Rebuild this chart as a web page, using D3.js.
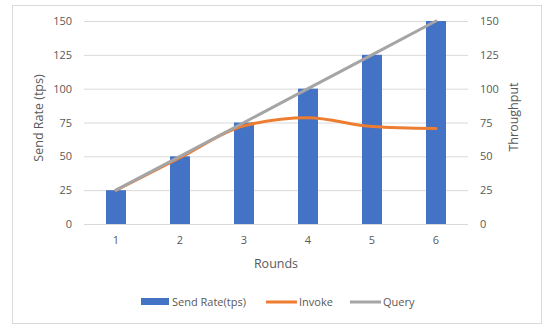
<!DOCTYPE html>
<meta charset="utf-8">
<style>
body { margin: 0; background: #fff; }
text { font-family: "Open Sans", sans-serif; fill: #595959; }
.grid line { stroke: #d9d9d9; stroke-width: 1px; }
.axis path, .axis line { display: none; }
.line { fill: none; stroke-width: 3px; stroke-linecap: round; }
</style>
<svg width="550" height="333"></svg>
<script src="https://d3js.org/d3.v7.min.js"></script>
<script>

const rounds = ["1", "2", "3", "4", "5", "6"];
const sendRate = [25, 50, 75, 100, 125, 150];
const invoke = [25, 49, 72.5, 78.5, 72, 70.5];
const query = [25, 50, 75, 100, 125, 150];
const yTicks = [0, 25, 50, 75, 100, 125, 150];

const svg = d3.select("svg"),
    margin = {top: 21, right: 82, bottom: 109, left: 84},
    width = +svg.attr("width") - margin.left - margin.right,
    height = +svg.attr("height") - margin.top - margin.bottom;

// outer frame
svg.append("rect")
    .attr("x", 12.5).attr("y", 5.5)
    .attr("width", 529).attr("height", 318)
    .attr("fill", "none")
    .attr("stroke", "#d9d9d9");

const g = svg.append("g").attr("transform", "translate(" + margin.left + "," + margin.top + ")");

const xScale = d3.scaleBand().domain(rounds).range([0, width]);
const yLeft = d3.scaleLinear().domain([0, 150]).range([height, 0]);
const yRight = d3.scaleLinear().domain([0, 150]).range([height, 0]);

g.append("g")
    .attr("class", "grid")
    .selectAll("line")
    .data(yTicks)
    .join("line")
    .attr("x1", 0).attr("x2", width)
    .attr("y1", d => yLeft(d) + 0.5).attr("y2", d => yLeft(d) + 0.5);

const yAxisL = g.append("g")
    .attr("class", "axis")
    .call(d3.axisLeft(yLeft).tickValues(yTicks).tickSize(0).tickPadding(12));
yAxisL.selectAll("text").style("font-size", "11px");

const yAxisR = g.append("g")
    .attr("class", "axis")
    .attr("transform", "translate(" + width + ",0)")
    .call(d3.axisRight(yRight).tickValues(yTicks).tickSize(0).tickPadding(12));
yAxisR.selectAll("text").style("font-size", "11px");

const xAxis = g.append("g")
    .attr("class", "axis")
    .attr("transform", "translate(0," + height + ")")
    .call(d3.axisBottom(xScale).tickSize(0).tickPadding(12));
xAxis.selectAll("text").style("font-size", "11px");

const barW = 20;
g.selectAll(".bar")
    .data(sendRate)
    .join("rect")
    .attr("class", "bar")
    .attr("x", (d, i) => xScale(rounds[i]) + xScale.bandwidth() / 2 - barW / 2)
    .attr("y", d => yLeft(d))
    .attr("width", barW)
    .attr("height", d => height - yLeft(d))
    .attr("fill", "#4472c4");

const cx = i => xScale(rounds[i]) + xScale.bandwidth() / 2;

g.append("path")
    .datum(invoke)
    .attr("class", "line")
    .attr("stroke", "#ed7d31")
    .attr("d", d3.line().x((d, i) => cx(i)).y(d => yRight(d)).curve(d3.curveMonotoneX));

g.append("path")
    .datum(query)
    .attr("class", "line")
    .attr("stroke", "#a5a5a5")
    .attr("d", d3.line().x((d, i) => cx(i)).y(d => yRight(d)));

// axis titles
svg.append("text")
    .attr("transform", "translate(43,118) rotate(-90)")
    .attr("text-anchor", "middle")
    .style("font-size", "12.5px")
    .text("Send Rate (tps)");

svg.append("text")
    .attr("transform", "translate(518,117) rotate(-90)")
    .attr("text-anchor", "middle")
    .style("font-size", "12.5px")
    .text("Throughput");

svg.append("text")
    .attr("x", 276).attr("y", 268)
    .attr("text-anchor", "middle")
    .style("font-size", "12.5px")
    .text("Rounds");

// legend
const legend = [
  {name: "Send Rate(tps)", color: "#4472c4", type: "bar", x: 141},
  {name: "Invoke", color: "#ed7d31", type: "line", x: 266},
  {name: "Query", color: "#a5a5a5", type: "line", x: 350}
];
const lg = svg.append("g").selectAll("g").data(legend).join("g")
    .attr("transform", d => "translate(" + d.x + ",302)");
lg.append("rect")
    .attr("x", 0).attr("y", d => d.type === "bar" ? -4 : -1.5)
    .attr("width", d => d.type === "bar" ? 28 : 31)
    .attr("height", d => d.type === "bar" ? 7 : 3)
    .attr("fill", d => d.color);
lg.append("text")
    .attr("x", d => d.type === "bar" ? 31 : 33)
    .attr("y", 0)
    .attr("dy", "0.35em")
    .style("font-size", "11px")
    .text(d => d.name);

</script>
